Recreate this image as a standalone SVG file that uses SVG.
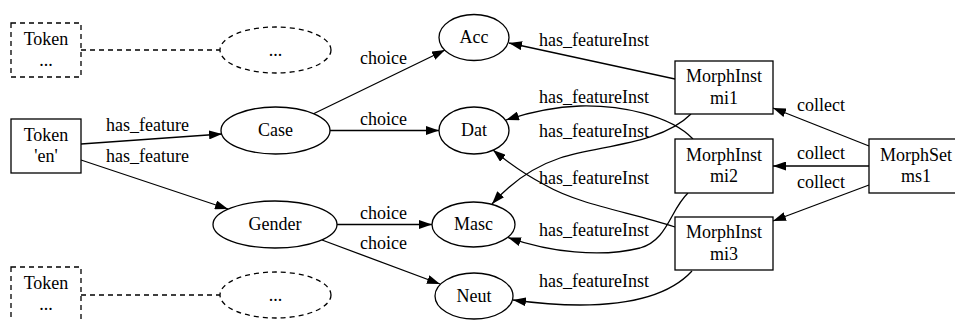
<svg xmlns="http://www.w3.org/2000/svg" width="955" height="320" viewBox="0 0 955 320">
<style>
text { font-family: "Liberation Serif", "Times New Roman", serif; font-size: 18px; fill: #000; text-anchor: middle; }
.n { fill: #fff; stroke: #000; stroke-width: 1.3; }
.d { fill: #fff; stroke: #000; stroke-width: 1.3; stroke-dasharray: 5,4; }
.e { fill: none; stroke: #000; stroke-width: 1.3; marker-end: url(#ah); }
.de { fill: none; stroke: #000; stroke-width: 1.3; stroke-dasharray: 5,4; }
</style>
<defs>
<marker id="ah" viewBox="0 0 13 9" refX="13" refY="4.5" markerWidth="13" markerHeight="9" markerUnits="userSpaceOnUse" orient="auto">
<path d="M0,0 L13,4.5 L0,9 z" fill="#000"/>
</marker>
</defs>
<rect width="955" height="320" fill="#fff"/>
<g id="edges">
<path class="de" d="M81,50 L220,50"/>
<path class="de" d="M81,295 L220,295"/>
<path class="e" d="M81,144 L222,134"/>
<text x="147.5" y="131">has_feature</text>
<path class="e" d="M81,160 L228,209"/>
<text x="147.5" y="161.5">has_feature</text>
<path class="e" d="M313,114 L445,50"/>
<text x="383.5" y="64">choice</text>
<path class="e" d="M330,130.5 L439,130.5"/>
<text x="383.5" y="125">choice</text>
<path class="e" d="M337,224.5 L432,224.5"/>
<text x="383.5" y="218.5">choice</text>
<path class="e" d="M322,240 L440,284"/>
<text x="383.5" y="249">choice</text>
<path class="e" d="M675,79 L509,43"/>
<text x="594" y="46">has_featureInst</text>
<path class="e" d="M691,114 C660,145 600,145 560,158 C530,168 508,186 492,204"/>
<text x="594" y="103">has_featureInst</text>
<path class="e" d="M693,139 C670,115 620,105 580,106 C555,107 530,112 506,120"/>
<text x="594" y="136.5">has_featureInst</text>
<path class="e" d="M688,193 C670,210 668,240 640,248 C600,258 550,252 508,237.5"/>
<text x="594" y="183.5">has_featureInst</text>
<path class="e" d="M675,227 C630,212 580,205 545,185 C520,172 505,160 493,150"/>
<text x="594" y="236">has_featureInst</text>
<path class="e" d="M692,271 C670,295 630,305 580,305 C555,305 535,303 513,300"/>
<text x="594" y="287">has_featureInst</text>
<path class="e" d="M869,146 L773,108"/>
<text x="821" y="110.5">collect</text>
<path class="e" d="M869,166 L773,166"/>
<text x="821" y="158.5">collect</text>
<path class="e" d="M869,185 L773,221"/>
<text x="821" y="187.5">collect</text>
</g>
<g id="tok_top"><rect class="d" x="11" y="23" width="70" height="54"/><text x="46" y="44.5">Token</text><text x="46" y="66">...</text></g>
<g id="dots_top"><ellipse class="d" cx="275.5" cy="50" rx="55.5" ry="23"/><text x="275.5" y="55.5">...</text></g>
<g id="tok_en"><rect class="n" x="11" y="119" width="70" height="54"/><text x="46" y="140.5">Token</text><text x="46" y="162">'en'</text></g>
<g id="case"><ellipse class="n" cx="275.5" cy="130.5" rx="54.5" ry="23.5"/><text x="275.5" y="136">Case</text></g>
<g id="gender"><ellipse class="n" cx="275" cy="224.5" rx="62" ry="23.5"/><text x="275" y="230">Gender</text></g>
<g id="tok_bot"><rect class="d" x="11" y="267" width="70" height="54"/><text x="46" y="288.5">Token</text><text x="46" y="310">...</text></g>
<g id="dots_bot"><ellipse class="d" cx="275.5" cy="295" rx="55.5" ry="23"/><text x="275.5" y="300.5">...</text></g>
<g id="acc"><ellipse class="n" cx="474" cy="37.5" rx="35" ry="23"/><text x="474" y="43">Acc</text></g>
<g id="dat"><ellipse class="n" cx="474" cy="130.5" rx="35" ry="23.5"/><text x="474" y="136">Dat</text></g>
<g id="masc"><ellipse class="n" cx="473.5" cy="224.5" rx="41.5" ry="22.5"/><text x="473.5" y="230">Masc</text></g>
<g id="neut"><ellipse class="n" cx="474" cy="296" rx="39" ry="23"/><text x="474" y="301.5">Neut</text></g>
<g id="mi1"><rect class="n" x="675" y="61" width="98" height="53"/><text x="724" y="82">MorphInst</text><text x="724" y="103.5">mi1</text></g>
<g id="mi2"><rect class="n" x="675" y="139" width="98" height="54"/><text x="724" y="160.5">MorphInst</text><text x="724" y="182">mi2</text></g>
<g id="mi3"><rect class="n" x="675" y="217" width="98" height="53"/><text x="724" y="238">MorphInst</text><text x="724" y="259.5">mi3</text></g>
<g id="ms1"><rect class="n" x="869" y="139" width="94" height="54"/><text x="916" y="160.5">MorphSet</text><text x="916" y="182">ms1</text></g>
</svg>
